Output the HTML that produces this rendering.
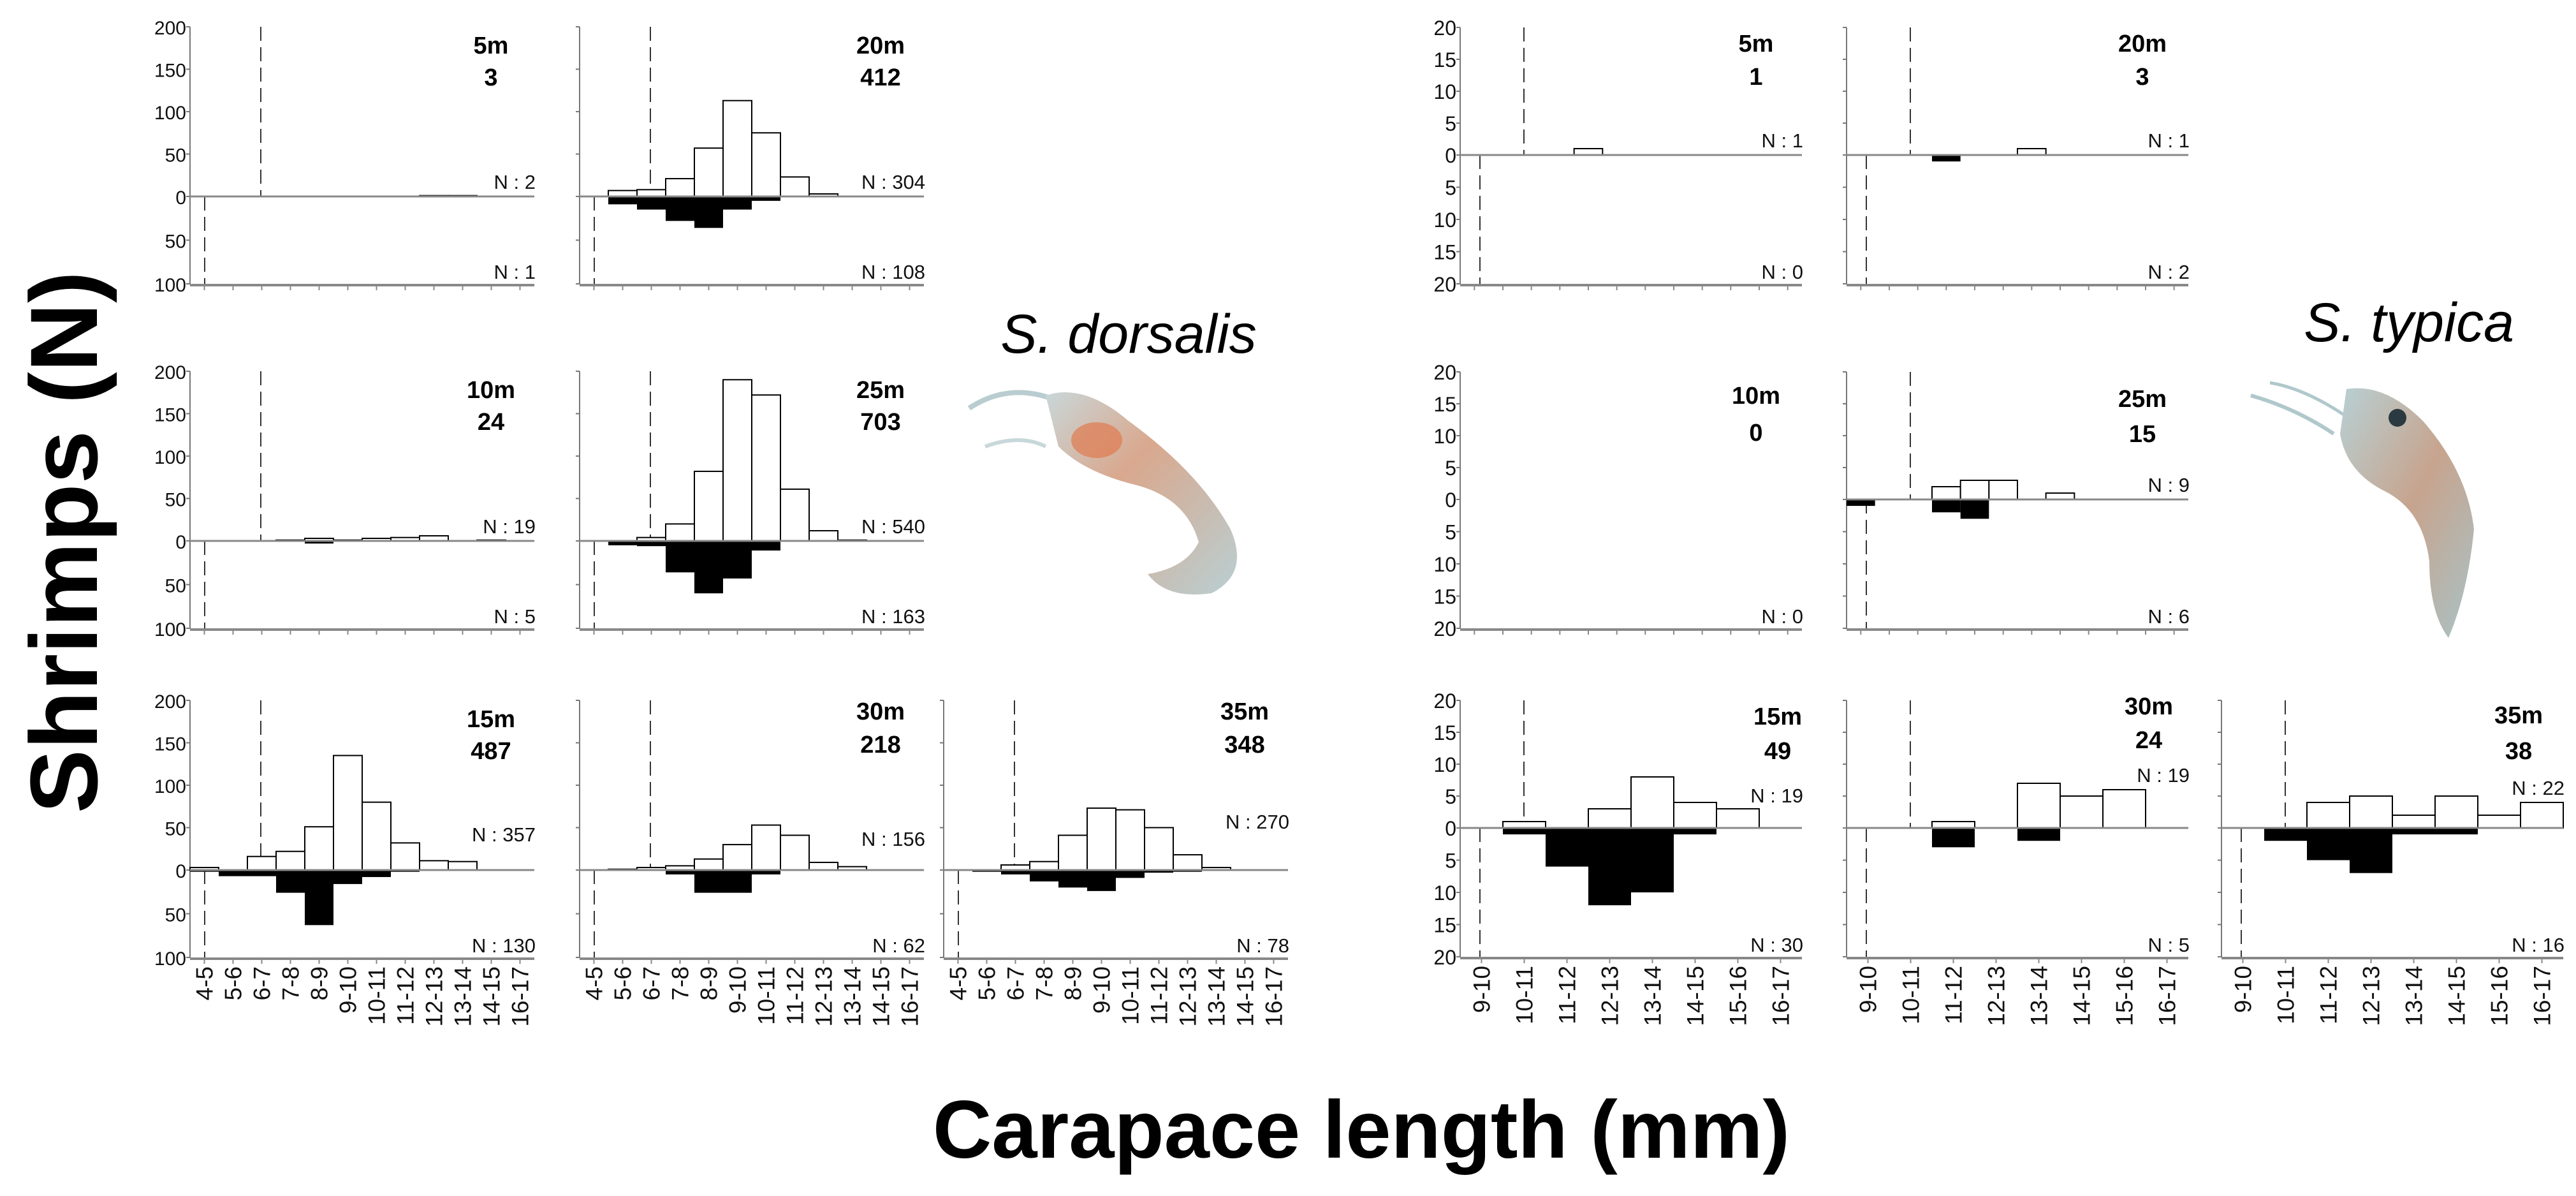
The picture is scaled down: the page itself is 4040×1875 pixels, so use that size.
<!DOCTYPE html>
<html>
<head>
<meta charset="utf-8">
<style>
html,body{margin:0;padding:0;background:#fff;}
svg{display:block;}
text{font-family:"Liberation Sans Narrow","Liberation Sans",sans-serif;}
.big{font-family:"Liberation Sans",sans-serif;font-weight:bold;}
</style>
</head>
<body>
<svg id="fig" width="4040" height="1875" viewBox="0 0 4040 1875" xmlns="http://www.w3.org/2000/svg">
  <text class="big" x="0" y="0" font-size="150" text-anchor="middle" transform="translate(152,850) rotate(-90)">Shrimps (N)</text>
  <text class="big" x="2135" y="1815" font-size="128" text-anchor="middle">Carapace length (mm)</text>
  <text x="1770" y="553" font-size="86" font-style="italic" text-anchor="middle" style="font-family:'Liberation Sans',sans-serif">S. dorsalis</text>
  <text x="3778" y="535" font-size="86" font-style="italic" text-anchor="middle" style="font-family:'Liberation Sans',sans-serif">S. typica</text>
  <defs>
    <linearGradient id="gA" x1="0" y1="0" x2="1" y2="1">
      <stop offset="0" stop-color="#c9d7d9"/><stop offset="0.4" stop-color="#d9a88e"/><stop offset="1" stop-color="#b9cfd2"/>
    </linearGradient>
    <linearGradient id="gB" x1="0" y1="0" x2="1" y2="1">
      <stop offset="0" stop-color="#b8d0d4"/><stop offset="0.5" stop-color="#c7a48e"/><stop offset="1" stop-color="#a9c2c6"/>
    </linearGradient>
  </defs>
  <g>
    <path d="M1520,640 Q1580,600 1650,625" stroke="#b9cdd0" stroke-width="8" fill="none"/>
    <path d="M1545,700 Q1600,680 1640,700" stroke="#c8d8da" stroke-width="6" fill="none"/>
    <path d="M1640,620 Q1700,600 1770,660 Q1880,740 1930,830 Q1960,900 1900,930 Q1830,940 1800,900 Q1860,890 1880,850 Q1860,780 1780,760 Q1700,740 1660,700 Z" fill="url(#gA)"/>
    <ellipse cx="1720" cy="690" rx="40" ry="28" fill="#e07a50" opacity="0.7"/>
  </g>
  <g>
    <path d="M3530,620 Q3600,640 3660,680" stroke="#b0c8cc" stroke-width="6" fill="none"/>
    <path d="M3560,600 Q3620,610 3690,660" stroke="#b0c8cc" stroke-width="5" fill="none"/>
    <path d="M3680,610 Q3740,600 3800,660 Q3870,740 3880,830 Q3870,930 3840,1000 Q3810,960 3810,880 Q3800,800 3740,770 Q3680,740 3670,680 Z" fill="url(#gB)"/>
    <circle cx="3760" cy="655" r="14" fill="#2a3a40"/>
  </g>
</svg>
<script>
// ---------- data ----------
const catsSD = ['4-5','5-6','6-7','7-8','8-9','9-10','10-11','11-12','12-13','13-14','14-15','16-17'];
const catsST = ['9-10','10-11','11-12','12-13','13-14','14-15','15-16','16-17'];
const ticksSD = [200,150,100,50,0,50,100];
const ticksST = [20,15,10,5,0,5,10,15,20];

const sd5Up   = [0,0,0,0,0,0,0,0,1,1,0,0];
const sd5Down = [0,1,0,0,0,0,0,0,0,0,0,0];
const sd20Up   = [0,7,8,21,57,113,75,23,3,0,0,0];
const sd20Down = [1,9,15,28,36,15,5,0,0,0,0,0];
const sd10Up   = [0,0,0,1,3,1,3,4,6,0,1,0];
const sd10Down = [0,0,0,1,3,1,0,0,0,0,0,0];
const sd25Up   = [0,0,4,20,82,190,172,61,12,1,0,0];
const sd25Down = [1,5,6,36,60,43,11,1,0,0,0,0];
const sd15Up   = [3,0,16,22,51,135,80,32,11,10,0,0];
const sd15Down = [2,7,7,26,63,16,8,2,0,0,0,0];
const sd30Up   = [0,1,3,5,13,30,53,41,9,4,0,0];
const sd30Down = [0,1,0,5,26,26,5,0,0,0,0,0];
const sd35Up   = [0,0,6,10,41,73,71,50,18,3,0,0];
const sd35Down = [0,2,5,13,20,24,9,3,2,0,0,0];

const st5Up   = [0,0,0,0,1,0,0,0,0,0,0,0];
const st5Down = [0,0,0,0,0,0,0,0,0,0,0,0];
const st20Up   = [0,0,0,0,0,0,1,0,0,0,0,0];
const st20Down = [0,0,0,1,0,0,0,0,0,0,0,0];
const st10Up   = [0,0,0,0,0,0,0,0,0,0,0,0];
const st10Down = [0,0,0,0,0,0,0,0,0,0,0,0];
const st25Up   = [0,0,0,2,3,3,0,1,0,0,0,0];
const st25Down = [1,0,0,2,3,0,0,0,0,0,0,0];
const st15Up   = [0,1,0,3,8,4,3,0];
const st15Down = [0,1,6,12,10,1,0,0];
const st30Up   = [0,0,1,0,7,5,6,0];
const st30Down = [0,0,3,0,2,0,0,0];
const st35Up   = [0,0,4,5,2,5,2,4];
const st35Down = [0,2,5,7,1,1,0,0];

const depthLabels = ['5m','20m','10m','25m','15m','30m','35m','5m','20m','10m','25m','15m','30m','35m'];
const totalLabels = ['3','412','24','703','487','218','348','1','3','0','15','49','24','38'];

// ---------- drawing ----------
const NS = 'http://www.w3.org/2000/svg';
const svg = document.getElementById('fig');
function mk(tag, attrs, parent){
  const e = document.createElementNS(NS, tag);
  for (const k in attrs) e.setAttribute(k, attrs[k]);
  (parent||svg).appendChild(e);
  return e;
}

function panel(p){
  const g = mk('g', {});
  
  
  const n = p.up.length, W = p.w, bw = W / n;
  const yUp = v => p.zero - v * p.su;
  const yDn = v => p.zero + v * p.sd;
  const xB = i => p.x0 + i * bw;
  const top = yUp(p.max), bot = yDn(p.maxDown);
  const ya = mk('line', {x1:p.x0, y1:top, x2:p.x0, y2:bot, stroke:'#777', 'stroke-width':2}, g);
  
  
  const half = (p.ticks.length - 1) / 2;
  p.ticks.forEach((t, i) => {
    const isUp = p.ticks.length === 7 ? i <= 4 : i <= 4;
    const y = isUp ? yUp(t) : yDn(t);
    const tk = mk('line', {x1:p.x0-6, y1:y, x2:p.x0, y2:y, stroke:'#777', 'stroke-width':2}, g);
    
    
    if (p.showY){
      const tl = mk('text', {x:p.x0-6, y:y+12, 'font-size':p.yfs, 'text-anchor':'end', fill:'#111'}, g);
      
      
      tl.textContent = t;
    }
  });
  if (p.dash){
    const d1 = mk('line', {x1:p.x0+p.dUp, y1:top, x2:p.x0+p.dUp, y2:p.zero, stroke:'#333', 'stroke-width':2, 'stroke-dasharray':'22,10'}, g);
    
    
    const d2 = mk('line', {x1:p.x0+p.dDn, y1:p.zero, x2:p.x0+p.dDn, y2:bot, stroke:'#333', 'stroke-width':2, 'stroke-dasharray':'22,10'}, g);
    
    
  }
  p.up.forEach((v, i) => {
    if (!v) return;
    const r = mk('rect', {x:xB(i), y:yUp(v), width:bw, height:p.zero-yUp(v), fill:'#fff', stroke:'#000', 'stroke-width':2}, g);
    
    
  });
  p.down.forEach((v, i) => {
    if (!v) return;
    const r = mk('rect', {x:xB(i), y:p.zero, width:bw, height:yDn(v)-p.zero, fill:'#000'}, g);
    
    
  });
  if (p.zeroLine){
    const zl = mk('line', {x1:p.x0, y1:p.zero, x2:p.x0+W, y2:p.zero, stroke:'#888', 'stroke-width':3}, g);
    
    
  }
  const xa = mk('line', {x1:p.x0, y1:bot+2, x2:p.x0+W, y2:bot+2, stroke:'#888', 'stroke-width':4}, g);
  
  
  for (let i = 0; i < n; i++){
    const cx = xB(i) + bw/2;
    const tk = mk('line', {x1:cx, y1:bot+2, x2:cx, y2:bot+10, stroke:'#888', 'stroke-width':2}, g);
    
    
    if (p.cats){
      const tl = mk('text', {x:0, y:0, 'font-size':37, 'text-anchor':'end', fill:'#111', style:"font-family:'Liberation Sans',sans-serif", transform:'translate(' + (cx+13) + ',' + (bot+14) + ') rotate(-90)'}, g);
      
      
      tl.textContent = p.cats[i];
    }
  }
  const dl = mk('text', {x:p.x0+W-p.lx, y:top+p.ly1, 'font-size':38, 'font-weight':'bold', 'text-anchor':'middle', fill:'#000'}, g);
  
  
  dl.textContent = depthLabels[p.k];
  const cl = mk('text', {x:p.x0+W-p.lx, y:top+p.ly2, 'font-size':38, 'font-weight':'bold', 'text-anchor':'middle', fill:'#000'}, g);
  
  
  cl.textContent = totalLabels[p.k];
  if (p.showNUp){
    const nu = mk('text', {x:p.x0+W+2, y:p.zero-p.nuy, 'font-size':31, 'text-anchor':'end', fill:'#111'}, g);
    
    
    nu.textContent = 'N : ' + p.nUp;
  }
  const nd = mk('text', {x:p.x0+W+2, y:bot-8, 'font-size':31, 'text-anchor':'end', fill:'#111'}, g);
  
  
  nd.textContent = 'N : ' + p.nDn;
}

const LX = [298, 909, 1480], LZ = [308, 848, 1364];
const RX = [2290, 2896, 3484], RZ = [243, 783, 1298];
function L(id,k,c,r,up,down,nUp,nDn,cats,extra){
  return Object.assign({id,k,x0:LX[c],zero:LZ[r],w:540,su:1.33,sd:1.37,max:200,maxDown:100,up,down,nUp,nDn,
    ticks:ticksSD,showY:c===0,yfs:30,dash:true,dUp:111,dDn:23,cats,lx:68,ly1:42,ly2:92,nuy:12,zeroLine:true,showNUp:true}, extra||{});
}
function R(id,k,c,r,up,down,nUp,nDn,cats,extra){
  return Object.assign({id,k,x0:RX[c],zero:RZ[r],w:536,su:10,sd:10.1,max:20,maxDown:20,up,down,nUp,nDn,
    ticks:ticksST,showY:c===0,yfs:32,dash:true,dUp:100,dDn:31,cats,lx:72,ly1:38,ly2:90,nuy:12,zeroLine:true,showNUp:true}, extra||{});
}
[
  L('sd-5m',0,0,0,sd5Up,sd5Down,2,1,null),
  L('sd-20m',1,1,0,sd20Up,sd20Down,304,108,null),
  L('sd-10m',2,0,1,sd10Up,sd10Down,19,5,null),
  L('sd-25m',3,1,1,sd25Up,sd25Down,540,163,null),
  L('sd-15m',4,0,2,sd15Up,sd15Down,357,130,catsSD,{nuy:45}),
  L('sd-30m',5,1,2,sd30Up,sd30Down,156,62,catsSD,{nuy:38,ly1:30,ly2:82}),
  L('sd-35m',6,2,2,sd35Up,sd35Down,270,78,catsSD,{nuy:65,ly1:30,ly2:82}),
  R('st-5m',7,0,0,st5Up,st5Down,1,0,null),
  R('st-20m',8,1,0,st20Up,st20Down,1,2,null),
  R('st-10m',9,0,1,st10Up,st10Down,0,0,null,{dash:false,ly1:50,ly2:108,zeroLine:false,showNUp:false}),
  R('st-25m',10,1,1,st25Up,st25Down,9,6,null,{ly1:55,ly2:110}),
  R('st-15m',11,0,2,st15Up,st15Down,19,30,catsST,{lx:38,ly1:38,ly2:92,nuy:40}),
  R('st-30m',12,1,2,st30Up,st30Down,19,5,catsST,{lx:62,ly1:22,ly2:75,nuy:72}),
  R('st-35m',13,2,2,st35Up,st35Down,22,16,catsST,{lx:70,ly1:36,ly2:92,nuy:52})
].forEach(panel);
</script>
</body>
</html>
